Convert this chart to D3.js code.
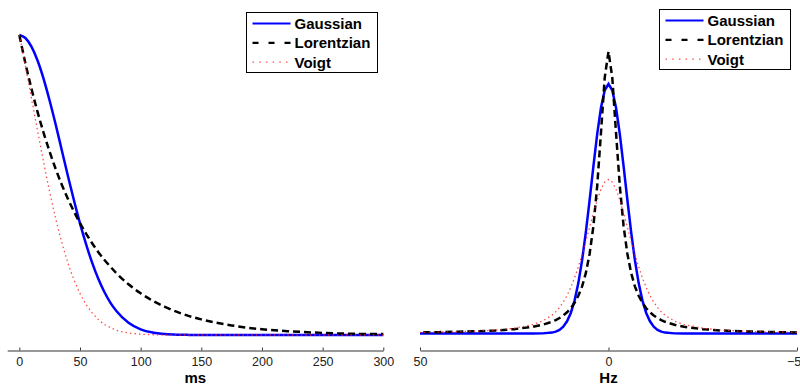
<!DOCTYPE html>
<meta charset="utf-8">
<head>
  <script src="https://d3js.org/d3.v7.min.js"></script>
  <style>
    body { margin: 0; background: #fff; }
    text { font-family: "Liberation Sans", Arial, Helvetica, sans-serif; }
  </style>
</head>
<body>
<div id="chart"></div>
<script>
// series names for the legend
const seriesNames = ["Gaussian", "Lorentzian", "Voigt"];

// left panel: time domain (ms) (peak = 1)
const timeMs = [0, 5, 10, 15, 20, 25, 30, 35, 40, 45, 50, 55, 60, 65, 70, 75, 80, 90, 100, 110, 120, 130, 140, 150, 175, 200, 225, 250, 275, 300];
const gaussTime = [1, 0.990, 0.961, 0.915, 0.854, 0.781, 0.701, 0.616, 0.531, 0.449, 0.372, 0.303, 0.241, 0.188, 0.144, 0.108, 0.080, 0.041, 0.019, 0.008, 0.003, 0.001, 0.0004, 0.0001, 0, 0, 0, 0, 0, 0];
const lorentzTime = [1, 0.906, 0.821, 0.744, 0.674, 0.611, 0.553, 0.501, 0.454, 0.412, 0.373, 0.338, 0.306, 0.277, 0.251, 0.228, 0.206, 0.169, 0.139, 0.114, 0.094, 0.077, 0.063, 0.052, 0.032, 0.019, 0.012, 0.007, 0.004, 0.003];
const voigtTime = [1, 0.897, 0.789, 0.681, 0.576, 0.477, 0.388, 0.309, 0.241, 0.185, 0.139, 0.102, 0.074, 0.052, 0.036, 0.025, 0.016, 0.007, 0.003, 0.001, 0.0003, 0, 0, 0, 0, 0, 0, 0, 0, 0];
const timeTicks = [0, 50, 100, 150, 200, 250, 300];

// right panel: frequency domain (Hz), Gaussian peak = 1
const freqHz = [-50, -45, -40, -35, -30, -25, -20, -17.5, -15, -14, -13, -12, -11, -10, -9, -8, -7, -6, -5, -4, -3, -2, -1, 0,
                1, 2, 3, 4, 5, 6, 7, 8, 9, 10, 11, 12, 13, 14, 15, 17.5, 20, 25, 30, 35, 40, 45, 50];
const gaussFreq = [0, 0, 0, 0, 0, 0, 0, 0.0005, 0.0036, 0.0075, 0.0147, 0.0274, 0.0488, 0.0823, 0.132, 0.202, 0.294, 0.407, 0.536, 0.671, 0.799, 0.905, 0.975, 1,
                   0.975, 0.905, 0.799, 0.671, 0.536, 0.407, 0.294, 0.202, 0.132, 0.0823, 0.0488, 0.0274, 0.0147, 0.0075, 0.0036, 0.0005, 0, 0, 0, 0, 0, 0, 0];
const lorentzFreq = [0.0044, 0.0055, 0.007, 0.009, 0.012, 0.0175, 0.027, 0.035, 0.047, 0.054, 0.062, 0.072, 0.085, 0.101, 0.123, 0.151, 0.189, 0.243, 0.320, 0.431, 0.591, 0.804, 1.026, 1.13,
                     1.026, 0.804, 0.591, 0.431, 0.320, 0.243, 0.189, 0.151, 0.123, 0.101, 0.085, 0.072, 0.062, 0.054, 0.047, 0.035, 0.027, 0.0175, 0.012, 0.009, 0.007, 0.0055, 0.0044];
const voigtFreq = [0.0046, 0.0057, 0.0073, 0.0097, 0.0135, 0.021, 0.036, 0.050, 0.073, 0.087, 0.104, 0.126, 0.152, 0.185, 0.223, 0.267, 0.316, 0.370, 0.427, 0.483, 0.535, 0.578, 0.607, 0.617,
                   0.607, 0.578, 0.535, 0.483, 0.427, 0.370, 0.316, 0.267, 0.223, 0.185, 0.152, 0.126, 0.104, 0.087, 0.073, 0.050, 0.036, 0.021, 0.0135, 0.0097, 0.0073, 0.0057, 0.0046];
const freqTicks = [50, 0, -50];

const W = 800, H = 386;
const svg = d3.select("#chart").append("svg")
  .attr("width", W).attr("height", H);

// line styles per series (order of drawing: blue, black, red on top)
const styles = [
  {stroke: "#0000ff", width: 2.5, dash: null, legendDash: null},
  {stroke: "#000000", width: 2.5, dash: "7,4", legendDash: "6,10"},
  {stroke: "#ff2020", width: 1.3, dash: "1.5,3", legendDash: "1.5,5.2", opacity: 0.8}
];

function drawPanel(cfg) {
  const g = svg.append("g");
  const x = d3.scaleLinear().domain(cfg.xDomain).range(cfg.xRange);
  const y = d3.scaleLinear().domain(cfg.yDomain).range(cfg.yRange);

  const line = d3.line()
    .x(d => x(d[0]))
    .y(d => y(d[1]))
    .curve(cfg.curve);

  cfg.series.forEach((vals, i) => {
    const st = styles[i];
    g.append("path")
      .datum(cfg.xs.map((v, k) => [v, vals[k]]))
      .attr("d", line)
      .attr("fill", "none")
      .attr("stroke", st.stroke)
      .attr("stroke-width", st.width)
      .attr("stroke-dasharray", st.dash)
      .attr("stroke-opacity", st.opacity || 1);
  });

  // x axis, ticks pointing up like matlab
  const ax = g.append("g")
    .attr("transform", `translate(0,${cfg.axisY})`)
    .call(d3.axisBottom(x).tickValues(cfg.ticks)
      .tickFormat(d => d < 0 ? "\u2212" + Math.abs(d) : d)
      .tickSizeInner(-3).tickSizeOuter(0).tickPadding(7));
  ax.select(".domain").attr("stroke", "#333").attr("stroke-width", 1);
  ax.selectAll(".tick line").attr("stroke", "#333");
  ax.selectAll(".tick text").attr("fill", "#222").style("font-size", "12.5px")
    .style("font-family", "'Liberation Sans', Arial, sans-serif");

  g.append("text")
    .attr("x", (cfg.xRange[0] + cfg.xRange[1]) / 2 + cfg.labelDx)
    .attr("y", 383)
    .attr("text-anchor", "middle")
    .style("font-size", "15px").style("font-weight", "bold")
    .text(cfg.label);

  // legend
  const lg = g.append("g").attr("transform", `translate(${cfg.legend[0]},${cfg.legend[1]})`);
  lg.append("rect")
    .attr("x", 0).attr("y", 0).attr("width", 131).attr("height", 60)
    .attr("fill", "#fff").attr("stroke", "#000").attr("stroke-width", 1);
  seriesNames.forEach((name, i) => {
    const st = styles[i];
    const ry = 11 + i * 19.3;
    lg.append("line")
      .attr("x1", 6).attr("x2", 44).attr("y1", ry).attr("y2", ry)
      .attr("stroke", st.stroke)
      .attr("stroke-width", i === 2 ? 1.3 : 2.2)
      .attr("stroke-dasharray", st.legendDash)
      .attr("stroke-opacity", st.opacity || 1);
    lg.append("text")
      .attr("x", 48).attr("y", ry + 5.5)
      .style("font-size", "15px").style("font-weight", "bold")
      .text(name);
  });
}

drawPanel({
  xs: timeMs,
  series: [gaussTime, lorentzTime, voigtTime],
  xDomain: [-10, 300], xRange: [7.2, 383.3],
  yDomain: [0, 1], yRange: [335, 35],
  curve: d3.curveMonotoneX,
  ticks: timeTicks,
  axisY: 350.5,
  label: "ms", labelDx: 0,
  legend: [246.5, 12.5]
});

drawPanel({
  xs: freqHz,
  series: [gaussFreq, lorentzFreq, voigtFreq],
  xDomain: [50, -50], xRange: [420, 797],
  yDomain: [0, 1], yRange: [333.5, 84],
  curve: d3.curveLinear,
  ticks: freqTicks,
  axisY: 350.5,
  label: "Hz", labelDx: 0,
  legend: [659.5, 9.5]
});
</script>
</body>
